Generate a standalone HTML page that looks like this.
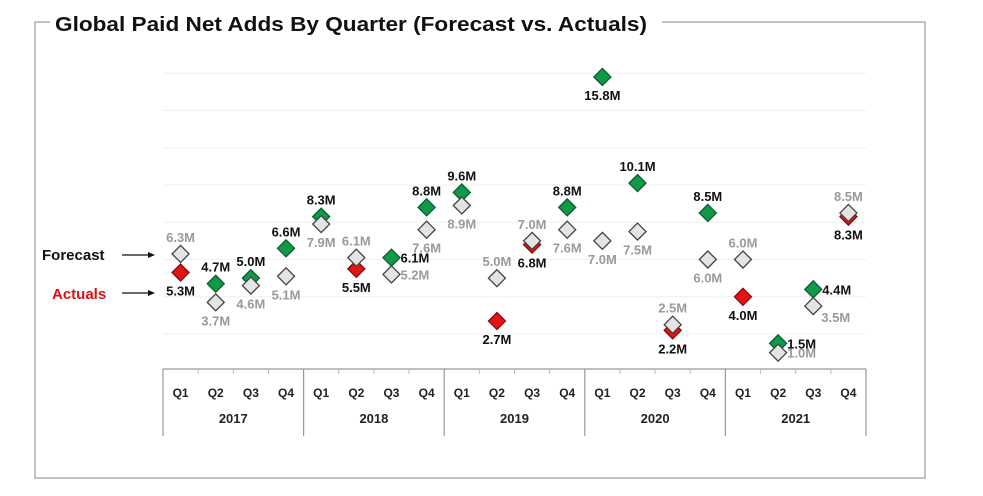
<!DOCTYPE html>
<html><head><meta charset="utf-8"><style>
html,body{margin:0;padding:0;background:#fff;}
svg{display:block;font-family:"Liberation Sans",sans-serif;}
</style></head><body>
<svg id="chart" width="983" height="496" viewBox="0 0 983 496">
  <path d="M50 22 H35 V478 H925 V22 H662" fill="none" stroke="#888" stroke-width="1"/>
  <text x="55" y="31" font-size="20" font-weight="bold" fill="#111" textLength="592" lengthAdjust="spacingAndGlyphs">Global Paid Net Adds By Quarter (Forecast vs. Actuals)</text>
  <g id="grid"></g>
  <g id="axis"></g>
  <g id="marks"></g>
  <g>
    <text x="42" y="260" font-size="15" font-weight="bold" fill="#111">Forecast</text>
    <line x1="122" y1="255" x2="150" y2="255" stroke="#111" stroke-width="1.2"/>
    <path d="M155 255 L148 252 L148 258 Z" fill="#111"/>
    <text x="52" y="299" font-size="15" font-weight="bold" fill="#e01010">Actuals</text>
    <line x1="122" y1="293" x2="150" y2="293" stroke="#111" stroke-width="1.2"/>
    <path d="M155 293 L148 290 L148 296 Z" fill="#111"/>
  </g>
</svg>
<script>
const years = ["2017","2018","2019","2020","2021"];
const quarters = ["Q1","Q2","Q3","Q4"];
const forecast = [6.3,3.7,4.6,5.1, 7.9,6.1,5.2,7.6, 8.9,5.0,7.0,7.6, 7.0,7.5,2.5,6.0, 6.0,1.0,3.5,8.5];
const actuals  = [5.3,4.7,5.0,6.6, 8.3,5.5,6.1,8.8, 9.6,2.7,6.8,8.8, 15.8,10.1,2.2,8.5, 4.0,1.5,4.4,8.3];
const forecastLabelPos = ["a","b","b","b","b","a","r","b","b","a","a","b","b","b","a","b","a","r","br","a"];
const actualLabelPos   = ["b","a","a","a","a","b","r","a","a","b","b","a","b","a","b","a","b","r","r","b"];
const gridTicks = [2,4,6,8,10,12,14,16];

const NS = "http://www.w3.org/2000/svg";
function mk(tag, attrs, parent){const e=document.createElementNS(NS,tag);for(const k in attrs)e.setAttribute(k,attrs[k]);parent.appendChild(e);return e;}
const x0 = 163, step = 35.15;
function xPos(i){return x0 + step*(i+0.5);}
function yPos(v){return 371.3 - v*18.63;}

const grid = document.getElementById('grid');
gridTicks.forEach(t=>{
  const l = mk('line',{x1:163,x2:866,y1:yPos(t),y2:yPos(t),stroke:'#efefef','stroke-width':1},grid);
  
  
});

const axis = document.getElementById('axis');
const n = years.length*quarters.length;
mk('line',{x1:163,x2:866,y1:369,y2:369,stroke:'#999','stroke-width':1.2},axis);
for(let g=0; g<=years.length; g++){
  const x = x0 + step*4*g;
  mk('line',{x1:x,x2:x,y1:369,y2:436,stroke:'#999','stroke-width':1.2},axis);
}
for(let i=0;i<n;i++){
  if(i%4!==0){const tx=x0+step*i; mk('line',{x1:tx,x2:tx,y1:369,y2:374,stroke:'#bbb'},axis);}
  const t = mk('text',{x:xPos(i),y:397,'text-anchor':'middle','font-size':12,'font-weight':'bold',fill:'#222'},axis);
  t.textContent = quarters[i%4];
  
  
}
years.forEach((yr,g)=>{
  const t = mk('text',{x:x0+step*(4*g+2),y:423,'text-anchor':'middle','font-size':13,'font-weight':'bold',fill:'#222'},axis);
  t.textContent = yr;
  
  
});

const marks = document.getElementById('marks');
function diamond(cx,cy,fill,stroke){
  const s=8.5;
  return mk('path',{d:`M${cx} ${cy-s} L${cx+s} ${cy} L${cx} ${cy+s} L${cx-s} ${cy} Z`,fill:fill,stroke:stroke,'stroke-width':1.3},marks);
}
function label(cx,cy,txt,pos,color){
  let x=cx,y=cy,anchor='middle';
  if(pos==='a'){y=cy-12;}
  else if(pos==='b'){y=cy+23;}
  else if(pos==='r'){x=cx+9;y=cy+5;anchor='start';}
  else if(pos==='br'){x=cx+8;y=cy+16;anchor='start';}
  const t=mk('text',{x:x,y:y,'text-anchor':anchor,'font-size':13,'font-weight':'bold',fill:color},marks);
  t.textContent=txt;
  return t;
}
actuals.forEach((v,i)=>{
  const beat = v >= forecast[i];
  const d = diamond(xPos(i),yPos(v),beat?'#0f9a48':'#e41414',beat?'#0b5e2c':'#8a0a0a');
  
  
});
forecast.forEach((v,i)=>{
  const d = diamond(xPos(i),yPos(v),'#e4e4e4','#444');
  
  
});
actuals.forEach((v,i)=>{
  const t = label(xPos(i),yPos(v),v.toFixed(1)+'M',actualLabelPos[i],'#111');
  
  
});
forecast.forEach((v,i)=>{
  const t = label(xPos(i),yPos(v),v.toFixed(1)+'M',forecastLabelPos[i],'#9a9a9a');
  
  
});
</script>
</body></html>
